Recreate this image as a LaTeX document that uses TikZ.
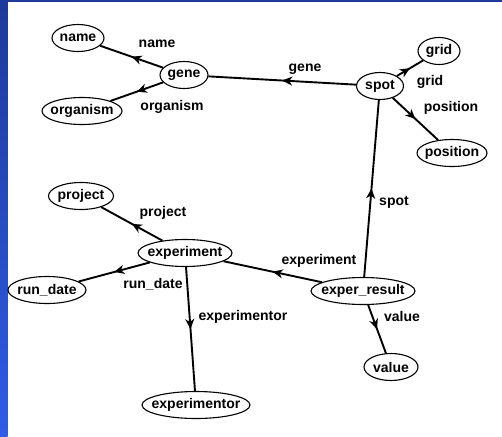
\documentclass[tikz,border=0pt]{standalone}
\usepackage{fontspec}
\setmainfont{Liberation Sans}
\usetikzlibrary{shapes.geometric,arrows.meta,decorations.markings}
\definecolor{frametop}{HTML}{1E3A9A}
\definecolor{framebot}{HTML}{2F5CE6}
\newcommand\cbox[1]{\makebox[0pt]{#1}}
\begin{document}
\begin{tikzpicture}[x=1pt,y=-1pt,
  txt/.style={font=\bfseries\fontsize{14}{16}\selectfont},
  attr/.style={ellipse, draw, line width=1.1pt, inner sep=0pt,
    minimum height=27pt, minimum width=#1, txt},
  lbl/.style={inner sep=0pt, txt},
  rel/.style={line width=1.9pt, postaction={decorate},
    decoration={markings, mark=at position 0.5 with
      {\arrow{Stealth[length=10pt,width=9pt,inset=3pt]}}}}
]
% page and blue frame
\useasboundingbox (0,0) rectangle (502,436);
\fill[white] (0,0) rectangle (502,436);
\shade[top color=frametop, bottom color=framebot] (0,0) rectangle (7.5,436);
\fill[frametop] (0,0) rectangle (502,2.5);

% entities and attributes
\node[attr=52pt]  (name)         at (78,38)   {\cbox{name}};
\node[attr=48pt]  (gene)         at (184,75)  {\cbox{gene}};
\node[attr=80pt]  (organism)     at (82,111)  {\cbox{organism}};
\node[attr=47pt]  (spot)         at (380,86)  {\cbox{spot}};
\node[attr=42pt]  (grid)         at (439,51)  {\cbox{grid}};
\node[attr=70pt]  (position)     at (452,153) {\cbox{position}};
\node[attr=65pt]  (project)      at (81,196)  {\cbox{project}};
\node[attr=94pt]  (experiment)   at (185,253) {\cbox{experiment}};
\node[attr=78pt]  (rundate)      at (47,290)  {\cbox{run\_date}};
\node[attr=104pt] (experresult)  at (363,291) {\cbox{exper\_result}};
\node[attr=54pt]  (value)        at (391,367) {\cbox{value}};
\node[attr=108pt] (experimentor) at (196,405) {\cbox{experimentor}};

% relations, arrow at the middle pointing to the target
\draw[rel] (gene) -- (name) node[lbl] at (157,44) {name};
\draw[rel] (gene) -- (organism) node[lbl] at (172,107) {organism};
\draw[rel] (spot) -- (gene) node[lbl] at (305,69) {gene};
\draw[rel] (spot) -- (grid) node[lbl] at (430,82) {grid};
\draw[rel] (spot) -- (position) node[lbl] at (451,108) {position};
\draw[rel] (experresult) -- (spot) node[lbl] at (394,202) {spot};
\draw[rel] (experresult) -- (experiment) node[lbl] at (319,261) {experiment};
\draw[rel] (experresult) -- (value) node[lbl] at (402,316) {value};
\draw[rel] (experiment) -- (project) node[lbl] at (163,213) {project};
\draw[rel] (experiment) -- (rundate) node[lbl] at (153,284) {run\_date};
\draw[rel] (experiment) -- (experimentor) node[lbl] at (243,317) {experimentor};
\end{tikzpicture}
\end{document}
